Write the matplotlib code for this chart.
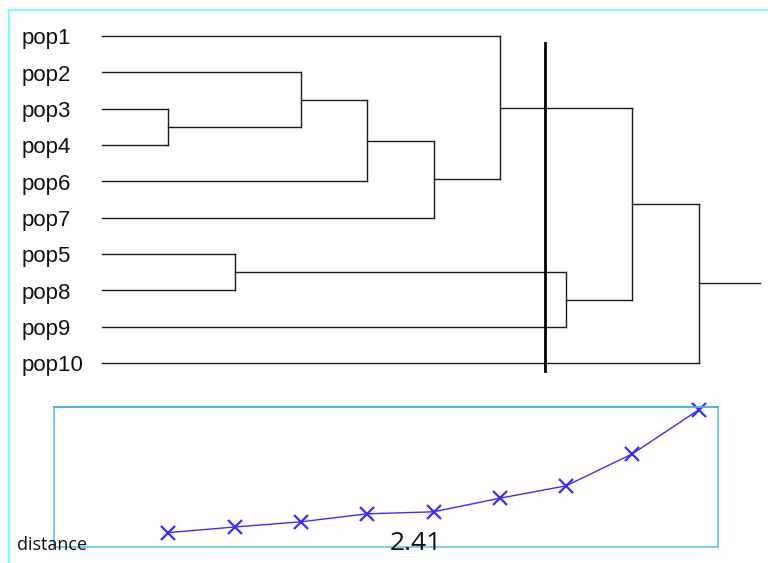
import matplotlib
matplotlib.use("Agg")
import matplotlib.pyplot as plt
from matplotlib.patches import Rectangle
from matplotlib.transforms import blended_transform_factory

# leaf order, top to bottom
labels = ['pop1', 'pop2', 'pop3', 'pop4', 'pop6', 'pop7', 'pop5', 'pop8', 'pop9', 'pop10']

# merges in order; an int refers to an earlier merge, a string to a leaf
merges = [('pop3', 'pop4'), ('pop5', 'pop8'), ('pop2', 0), (2, 'pop6'), (3, 'pop7'),
          ('pop1', 4), (1, 'pop9'), (5, 6), (7, 'pop10')]
merge_steps = [1, 2, 3, 4, 5, 6, 7, 8, 9]
distances = [0.36, 0.50, 0.63, 0.83, 0.88, 1.22, 1.53, 2.33, 3.43]
root_end = 9.93
cut_step = 6.68
cut_label = '2.41'

W, H = 768, 563
fig = plt.figure(figsize=(W / 100, H / 100), dpi=100)

# light cyan frame round the figure (only top/left are visible)
fig.patches.append(Rectangle((9 / W, -0.5), 2, 0.5 + 1 - 10 / H, transform=fig.transFigure,
                             fill=False, edgecolor='#80ffff', linewidth=1.5))

# dendrogram
ax = fig.add_axes([54 / W, 173 / H, 664 / W, 380 / H])
ax.set_xlim(-0.724, 9.29)
ax.set_ylim(9.74, -0.716)
ax.axis('off')

lc = '#1a1a1a'
pos = {}
for i, name in enumerate(labels):
    pos[name] = (0, i)

for k, (a, b) in enumerate(merges):
    step = merge_steps[k]
    xa, ya = pos[a]
    xb, yb = pos[b]
    ax.plot([xa, step], [ya, ya], color=lc, lw=1, clip_on=False)
    ax.plot([xb, step], [yb, yb], color=lc, lw=1, clip_on=False)
    ax.plot([step, step], [ya, yb], color=lc, lw=1, clip_on=False)
    pos[k] = (step, (ya + yb) / 2)

rx, ry = pos[len(merges) - 1]
ax.plot([rx, root_end], [ry, ry], color=lc, lw=1, clip_on=False)

# cut line
ax.plot([cut_step, cut_step], [0.19, 9.22], color='black', lw=2, clip_on=False)

tr = blended_transform_factory(fig.transFigure, ax.transData)
for i, name in enumerate(labels):
    ax.text(22 / W, i + 0.23, name, transform=tr, ha='left', va='baseline',
            fontsize=16, family='Liberation Sans', color='#111111')

# distance panel
ax2 = fig.add_axes([54 / W, 16 / H, 664 / W, 140 / H])
ax2.set_xlim(-0.724, 9.29)
ax2.set_ylim(0, 3.5)
ax2.set_xticks([])
ax2.set_yticks([])
for s in ax2.spines.values():
    s.set_color('#6ccbef')
    s.set_linewidth(1.3)
ax2.spines['top'].set_color('#3fb0e0')
ax2.plot(merge_steps, distances, color='#3d2cff', lw=1, marker='x', ms=10, mew=1.6,
         clip_on=False)

fig.text(17 / W, (H - 550) / H, 'distance', ha='left', va='baseline',
         fontsize=13, family='Open Sans', color='#111111')
fig.text(416 / W, (H - 549.5) / H, cut_label, ha='center', va='baseline',
         fontsize=19, family='Open Sans', color='#111111')

fig.savefig('out.png', dpi=100)
